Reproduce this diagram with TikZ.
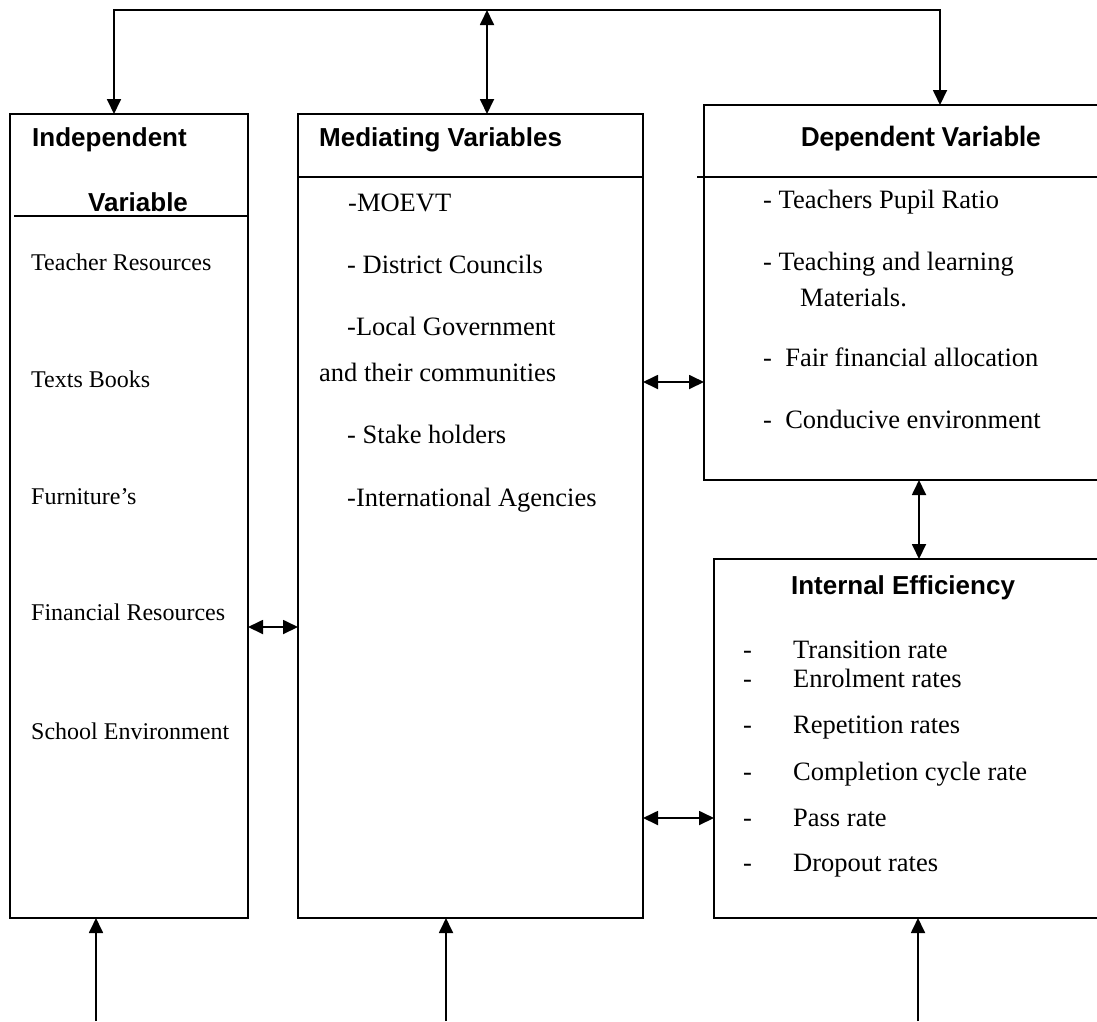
\documentclass[tikz,border=0pt]{standalone}
\usepackage{fontspec}
\setmainfont{Liberation Serif}
\newfontfamily\arialfont{Liberation Sans}
\newfontfamily\calibrifont{Carlito}
\usetikzlibrary{arrows.meta}

\tikzset{
  box/.style={draw,rectangle,line width=1.8pt,inner sep=0pt,outer sep=0pt,anchor=north west},
  head/.style={font=\arialfont\bfseries\fontsize{26}{30}\selectfont,anchor=west,inner sep=0pt,text height=22pt,text depth=4pt},
  item/.style={font=\fontsize{26.5}{30}\selectfont,anchor=west,inner sep=0pt,text height=21pt,text depth=4pt},
  smallitem/.style={item,font=\fontsize{24}{28}\selectfont,text height=19pt,text depth=3.6pt},
  link/.style={line width=1.8pt,-{Triangle[length=15pt,width=14pt]}},
  dlink/.style={line width=1.8pt,{Triangle[length=15pt,width=14pt]}-{Triangle[length=15pt,width=14pt]}},
}

\begin{document}
\begin{tikzpicture}[x=1pt,y=-1pt]
\useasboundingbox (0,0) rectangle (1097,1021);
\clip (0,0) rectangle (1097,1021);

\node[box,minimum width=238pt,minimum height=804pt] (indep) at (10,114) {};
\node[box,minimum width=345pt,minimum height=804pt] (medi) at (298,114) {};
\node[box,minimum width=406pt,minimum height=375pt] (dep) at (704,105) {};
\node[box,minimum width=396pt,minimum height=359pt] (eff) at (714,559) {};

\draw[line width=1.8pt] (14,216) -- (indep.east |- 0,216);
\draw[line width=1.8pt] (medi.west |- 0,177) -- (medi.east |- 0,177);
\draw[line width=1.8pt] (697,177) -- (dep.east |- 0,177);

\node[head] (indepA) at (32,137) {Independent};
\node[head] (indepB) at (88,202) {Variable};
\node[head] (mediT) at (319,137) {Mediating Variables};
\node[head,font=\calibrifont\bfseries\fontsize{29}{33}\selectfont,anchor=center] (depT) at (921,137) {Dependent Variable};
\node[head,anchor=center] (effT) at (903,585) {Internal Efficiency};

\node[smallitem] (ind1) at (31,263) {Teacher Resources};
\node[smallitem] (ind2) at (31,380) {Texts Books};
\node[smallitem] (ind3) at (31,497) {Furniture’s};
\node[smallitem] (ind4) at (31,613) {Financial Resources};
\node[smallitem] (ind5) at (31,732) {School Environment};

\node[item] (med1) at (348,203) {-MOEVT};
\node[item] (med2) at (347,265) {- District Councils};
\node[item] (med3) at (347,327) {-Local Government};
\node[item] (med4) at (319,373) {and their communities};
\node[item] (med5) at (347,435) {- Stake holders};
\node[item] (med6) at (347,498) {-International Agencies};

\node[item] (dep1) at (763,200) {- Teachers Pupil Ratio};
\node[item] (dep2) at (763,262) {- Teaching and learning};
\node[item] (dep3) at (800,298) {Materials.};
\node[item] (dep4) at (763,358) {-\ \ Fair financial allocation};
\node[item] (dep5) at (763,420) {-\ \ Conducive environment};

\node[item] (eff1) at (743,650) {\makebox[50pt][l]{-}Transition rate};
\node[item] (eff2) at (743,679) {\makebox[50pt][l]{-}Enrolment rates};
\node[item] (eff3) at (743,725) {\makebox[50pt][l]{-}Repetition rates};
\node[item] (eff4) at (743,772) {\makebox[50pt][l]{-}Completion cycle rate};
\node[item] (eff5) at (743,818) {\makebox[50pt][l]{-}Pass rate};
\node[item] (eff6) at (743,863) {\makebox[50pt][l]{-}Dropout rates};

\coordinate (tl) at (114,10);
\coordinate (tm) at (487,10);
\coordinate (tr) at (940,10);
\coordinate (bl) at (96,1021);
\coordinate (bm) at (446,1021);
\coordinate (br) at (918,1021);

\draw[link] (tm) -- (tl) -- (tl |- indep.north);
\draw[link] (tm) -- (tr) -- (tr |- dep.north);
\draw[dlink] (tm) -- (tm |- medi.north);

\draw[link] (bl) -- (bl |- indep.south);
\draw[link] (bm) -- (bm |- medi.south);
\draw[link] (br) -- (br |- eff.south);

\draw[dlink] (indep.east |- 0,627) -- (medi.west |- 0,627);
\draw[dlink] (medi.east |- 0,382) -- (dep.west |- 0,382);
\draw[dlink] (medi.east |- 0,818) -- (eff.west |- 0,818);
\draw[dlink] (dep.south -| 919,0) -- (eff.north -| 919,0);
\end{tikzpicture}
\end{document}
